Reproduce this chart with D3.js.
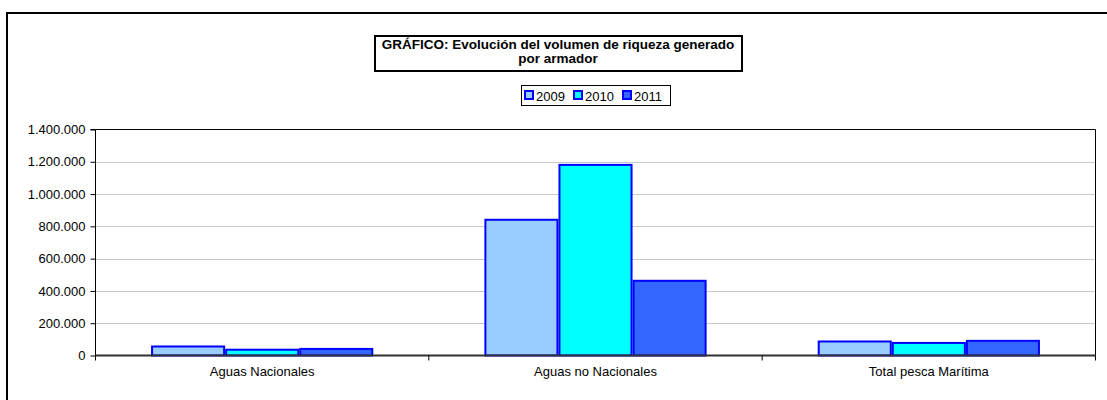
<!DOCTYPE html>
<html>
<head>
<meta charset="utf-8">
<script src="https://cdn.jsdelivr.net/npm/d3@7"></script>
<style>
  body { margin: 0; background: #fff; }
  svg { display: block; font-family: "Liberation Sans", Arial, sans-serif; }
</style>
</head>
<body>
<svg id="chart" width="1107" height="400"></svg>
<script>
// data
var categories = ["Aguas Nacionales", "Aguas no Nacionales", "Total pesca Marítima"];
var years = ["2009", "2010", "2011"];
var v2009 = [62000, 847000, 93000];
var v2010 = [42000, 1187000, 84000];
var v2011 = [47000, 469000, 97000];
var yTicks = [0, 200000, 400000, 600000, 800000, 1000000, 1200000, 1400000];
var colors = ["#99CCFF", "#00FFFF", "#3366FF"];

var series = [v2009, v2010, v2011];

var svg = d3.select("#chart");

// outer frame (only left and top show in the picture)
svg.append("path")
  .attr("d", "M7,400 V13 H1107")
  .attr("fill", "none")
  .attr("stroke", "#000")
  .attr("stroke-width", 2);

var pLeft = 95.5, pRight = 1095.5, pTop = 129.5, pBottom = 355.5;

var x = d3.scaleBand().domain(categories).range([pLeft, pRight]);
var gap = x.bandwidth() * 0.75 / 4.5; // gap width 150%
var inner = d3.scaleBand().domain(years).range([gap, x.bandwidth() - gap]).padding(0);

var y = d3.scaleLinear().domain([0, 1400000]).range([pBottom, pTop]);

var fmt = function(d) {
  return d3.format(",")(d).replace(/,/g, ".");
};

// gridlines
svg.append("g")
  .selectAll("line")
  .data(yTicks.filter(function(d) { return d > 0 && d < 1400000; }))
  .enter().append("line")
  .attr("x1", pLeft).attr("x2", pRight)
  .attr("y1", function(d) { return Math.round(y(d)) + 0.5; })
  .attr("y2", function(d) { return Math.round(y(d)) + 0.5; })
  .attr("stroke", "#c8c8c8");

// plot area border top/right
svg.append("path")
  .attr("d", "M" + pLeft + "," + pTop + " H" + pRight + " V" + pBottom)
  .attr("fill", "none")
  .attr("stroke", "#000");

// bars
var g = svg.append("g");
categories.forEach(function(c, ci) {
  series.forEach(function(s, si) {
    var x0 = x(c) + inner(years[si]);
    g.append("rect")
      .attr("x", x0 + 1)
      .attr("y", y(s[ci]) + 1)
      .attr("width", inner.bandwidth() - 2)
      .attr("height", pBottom - y(s[ci]) - 1)
      .attr("fill", colors[si])
      .attr("stroke", "#0000FF")
      .attr("stroke-width", 2);
  });
});

// y axis
var yAxis = d3.axisLeft(y).tickValues(yTicks).tickFormat(fmt).tickSize(5).tickPadding(5);
var ya = svg.append("g")
  .attr("transform", "translate(" + pLeft + ",0)")
  .call(yAxis);
ya.selectAll("text").attr("font-size", 13).attr("font-family", "Liberation Sans, Arial, sans-serif").attr("fill", "#000");
ya.selectAll("line").attr("stroke", "#000");
ya.select(".domain").attr("stroke", "#000").attr("d", "M-5," + pTop + "H0V" + (pBottom + 5));

// x axis
var xa = svg.append("g")
  .attr("transform", "translate(0," + pBottom + ")")
  .call(d3.axisBottom(x).tickSize(0).tickPadding(11));
xa.select(".domain").attr("stroke", "#333").attr("stroke-width", 2).attr("d", "M" + pLeft + ",0H" + pRight);
xa.selectAll("text").attr("font-size", 13).attr("font-family", "Liberation Sans, Arial, sans-serif").attr("fill", "#000");
xa.selectAll(".bound")
  .data(categories)
  .enter().append("line")
  .attr("class", "bound")
  .attr("x1", function(d) { return x(d) + x.bandwidth(); })
  .attr("x2", function(d) { return x(d) + x.bandwidth(); })
  .attr("y1", 0).attr("y2", 5)
  .attr("stroke", "#000");

// title box
svg.append("rect")
  .attr("x", 375).attr("y", 36).attr("width", 367).attr("height", 35)
  .attr("fill", "#fff").attr("stroke", "#000").attr("stroke-width", 2);
var title = svg.append("text")
  .attr("text-anchor", "middle")
  .attr("font-size", 13.5)
  .attr("font-weight", "bold");
title.append("tspan").attr("x", 558).attr("y", 49).text("GRÁFICO: Evolución del volumen de riqueza generado");
title.append("tspan").attr("x", 558).attr("y", 63).text("por armador");

// legend
svg.append("rect")
  .attr("x", 521.5).attr("y", 85.5).attr("width", 149).attr("height", 20)
  .attr("fill", "#fff").attr("stroke", "#000");
var leg = svg.append("g").selectAll("g")
  .data(years)
  .enter().append("g")
  .attr("transform", function(d, i) { return "translate(" + (525 + i * 49) + ",0)"; });
leg.append("rect")
  .attr("x", 0).attr("y", 91).attr("width", 8).attr("height", 8)
  .attr("fill", function(d, i) { return colors[i]; })
  .attr("stroke", "#0000FF").attr("stroke-width", 2);
leg.append("text")
  .attr("x", 11).attr("y", 100.5)
  .attr("font-size", 13)
  .text(function(d) { return d; });
</script>
</body>
</html>
